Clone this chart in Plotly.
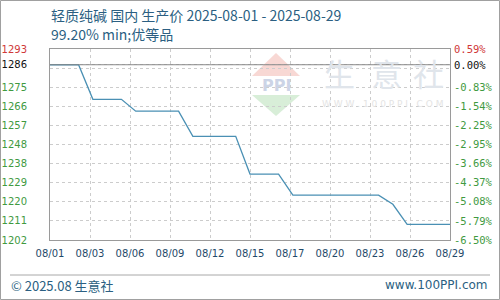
import plotly.graph_objects as go
import pandas as pd

# ---- data ----
dates = [f"2025-08-{d:02d}" for d in range(1, 30)]
prices = [1285.5, 1285.5, 1285.5,
          1269.0, 1269.0, 1269.0,
          1263.4, 1263.4, 1263.4, 1263.4,
          1251.4, 1251.4, 1251.4, 1251.4,
          1233.4, 1233.4, 1233.4,
          1223.4, 1223.4, 1223.4, 1223.4, 1223.4, 1223.4, 1223.4,
          1219.0,
          1209.4, 1209.4, 1209.4, 1209.4]

x_tick_labels = ["08/01", "08/03", "08/06", "08/09", "08/12", "08/15",
                 "08/17", "08/20", "08/23", "08/26", "08/29"]
left_tick_vals = [1202, 1211.1, 1220.2, 1229.3, 1238.4, 1247.5, 1256.6,
                  1265.7, 1274.8, 1283.9, 1293]
left_tick_text = ["1202", "1211", "1220", "1229", "1238", "1248", "1257",
                  "1266", "1275", "", "1293"]
right_tick_vals = [0.59, -0.119, -0.828, -1.537, -2.246, -2.955, -3.664,
                   -4.373, -5.082, -5.791, -6.50]
right_tick_text = ["0.59%", "", "-0.83%", "-1.54%", "-2.25%", "-2.95%",
                   "-3.66%", "-4.37%", "-5.08%", "-5.79%", "-6.50%"]
start_label = "1286"
start_pct_label = "0.00%"

title1 = "轻质纯碱 国内 生产价 2025-08-01 - 2025-08-29"
title2 = "99.20% min;优等品"
footer_left = "© 2025.08 生意社"
footer_right = "www.100PPI.com"

# ---- styling ----
GREEN = "#3f9a3f"
RED = "#d03838"
BLACK = "#111111"
TITLE = "#2b5f82"
LINE = "#4a90b4"

W, H = 500, 300
ML, MR, MT, MB = 50, 50, 49, 60
PW, PH = W - ML - MR, H - MT - MB


def px(x):
    return (x - ML) / PW


def py(y):
    return (H - MB - y) / PH


fig = go.Figure()
fig.add_trace(go.Scatter(x=dates, y=prices, mode="lines",
                         line=dict(color=LINE, width=1.3),
                         hoverinfo="x+y", showlegend=False))
# invisible trace on the secondary axis
fig.add_trace(go.Scatter(x=[dates[0]], y=[0], yaxis="y2", mode="markers",
                         marker=dict(opacity=0), hoverinfo="skip", showlegend=False))

# x ticks: evenly spaced across the date range
x0 = pd.Timestamp(dates[0])
x1 = pd.Timestamp(dates[-1])
n = len(x_tick_labels)
x_tick_vals = [x0 + (x1 - x0) * k / (n - 1) for k in range(n)]

lt_vals = left_tick_vals + [prices[0]]
lt_text = []
for v, t in zip(left_tick_vals, left_tick_text):
    col = RED if v == max(left_tick_vals) else GREEN
    lt_text.append(f'<span style="color:{col}">{t}</span>' if t else "")
lt_text.append(f'<span style="color:{BLACK}">{start_label}</span>')

rt_vals = right_tick_vals + [0.0]
rt_text = []
for v, t in zip(right_tick_vals, right_tick_text):
    col = RED if v == max(right_tick_vals) else GREEN
    rt_text.append(f'<span style="color:{col}">{t}</span>' if t else "")
rt_text.append(f'<span style="color:{BLACK}">{start_pct_label}</span>')

grid = dict(showgrid=True, gridcolor="#cccccc", griddash="dot", gridwidth=1)

fig.update_layout(
    width=W, height=H,
    margin=dict(l=ML, r=MR, t=MT, b=MB, pad=0, autoexpand=False),
    paper_bgcolor="white", plot_bgcolor="white",
    xaxis=dict(type="date", range=[dates[0], dates[-1]],
               tickvals=x_tick_vals, ticktext=x_tick_labels,
               tickfont=dict(family="DejaVu Sans", size=10, color="#1f4a6a"),
               showline=True, mirror=True, linecolor="#9a9a9a", linewidth=1,
               ticks="", ticklabelstandoff=4, zeroline=False, fixedrange=True,
               automargin=False, **grid),
    yaxis=dict(range=[left_tick_vals[0], left_tick_vals[-1]],
               tickvals=lt_vals, ticktext=lt_text,
               tickfont=dict(family="DejaVu Sans", size=10, color=GREEN),
               showline=True, mirror=True, linecolor="#9a9a9a", linewidth=1,
               ticks="", ticklabelstandoff=20, zeroline=False, fixedrange=True,
               automargin=False, **grid),
    yaxis2=dict(overlaying="y", side="right",
                range=[right_tick_vals[-1], right_tick_vals[0]],
                tickvals=rt_vals, ticktext=rt_text,
                tickfont=dict(family="DejaVu Sans Mono", size=10.5, color=GREEN),
                showgrid=False, showline=False, zeroline=False, ticks="",
                ticklabelstandoff=3, fixedrange=True, automargin=False),
    font=dict(family="Noto Sans CJK SC"),
)

shapes = []
# baseline at start value
shapes.append(dict(type="line", xref="paper", yref="y", x0=0, x1=1,
                   y0=prices[0], y1=prices[0],
                   line=dict(color="#888888", width=1), layer="above"))
# outer border
shapes.append(dict(type="rect", xref="paper", yref="paper",
                   x0=px(0.5), x1=px(499.5), y0=py(299.5), y1=py(0.5),
                   line=dict(color="#a0a0a0", width=1), layer="below"))
# footer separator
shapes.append(dict(type="line", xref="paper", yref="paper",
                   x0=px(10), x1=px(490), y0=py(275), y1=py(275),
                   line=dict(color="#a8a8a8", width=1)))
# watermark logo
shapes.append(dict(type="path", xref="paper", yref="paper",
                   path=f"M {px(276)} {py(53)} L {px(300)} {py(76)} L {px(252)} {py(76)} Z",
                   fillcolor="#f8d8d4", line=dict(width=0), layer="below"))
shapes.append(dict(type="path", xref="paper", yref="paper",
                   path=f"M {px(252)} {py(95)} L {px(300)} {py(95)} L {px(276)} {py(116)} Z",
                   fillcolor="#d8eed8", line=dict(width=0), layer="below"))
fig.update_layout(shapes=shapes)

ann = []
ann.append(dict(text=title1, xref="paper", yref="paper", x=px(49), y=py(15),
                xanchor="left", yanchor="middle", showarrow=False,
                font=dict(family="Noto Sans CJK SC", size=14, color=TITLE)))
ann.append(dict(text=title2, xref="paper", yref="paper", x=px(49), y=py(34),
                xanchor="left", yanchor="middle", showarrow=False,
                font=dict(family="Noto Sans CJK SC", size=14, color=TITLE)))
ann.append(dict(text=footer_left, xref="paper", yref="paper", x=px(9), y=py(285),
                xanchor="left", yanchor="middle", showarrow=False,
                font=dict(family="Noto Sans CJK SC", size=13, color=TITLE)))
ann.append(dict(text=footer_right, xref="paper", yref="paper", x=px(490), y=py(285),
                xanchor="right", yanchor="middle", showarrow=False,
                font=dict(family="DejaVu Sans", size=12, color=TITLE)))
# watermark text
ann.append(dict(text="<b>PPI</b>", xref="paper", yref="paper", x=px(276), y=py(85),
                xanchor="center", yanchor="middle", showarrow=False,
                font=dict(family="DejaVu Sans", size=16, color="#ccd4e6")))
for ch, cx in zip("生意社", [339, 386, 428]):
    ann.append(dict(text=ch, xref="paper", yref="paper", x=px(cx), y=py(72),
                    xanchor="center", yanchor="middle", showarrow=False,
                    font=dict(family="Noto Sans CJK SC", size=31, color="#e0e5eb")))
ann.append(dict(text="W W W . 1 0 0 P P I . C O M", xref="paper", yref="paper",
                x=px(382), y=py(104), xanchor="center", yanchor="middle", showarrow=False,
                font=dict(family="DejaVu Sans", size=9, color="#e4e4e4")))
fig.update_layout(annotations=ann)

fig.write_html("out.html", config={"displayModeBar": False})
